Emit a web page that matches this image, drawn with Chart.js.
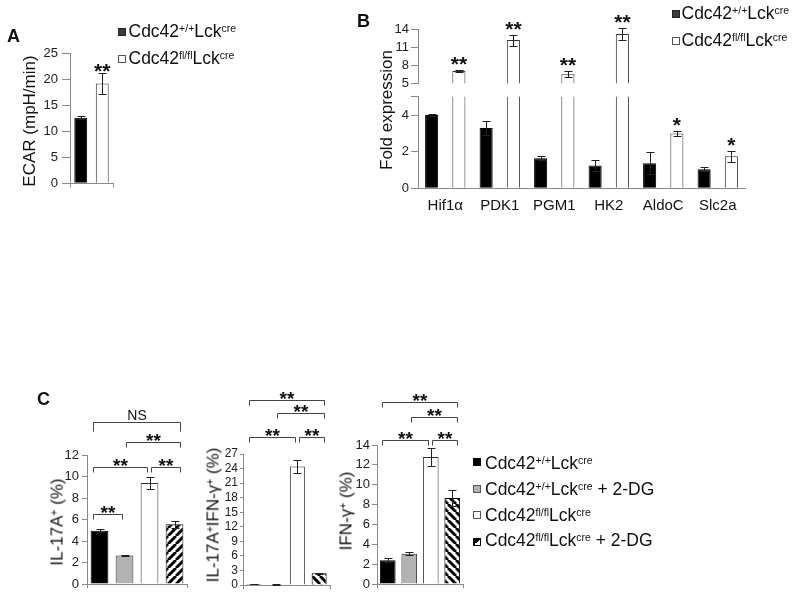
<!DOCTYPE html>
<html>
<head>
<meta charset="utf-8">
<script src="https://cdn.jsdelivr.net/npm/chart.js@4.4.1/dist/chart.umd.min.js"></script>
<style>
  html, body { margin: 0; padding: 0; background: #fff; }
  #page { position: relative; width: 800px; height: 598px; overflow: hidden;
          font-family: 'Liberation Sans', Arial, sans-serif; color: #111; }
  canvas { position: absolute; left: 0; top: 0; }
  .t { position: absolute; white-space: nowrap; line-height: 1; }
  .rot { transform: translate(-50%, -50%) rotate(-90deg); }
  sup { font-size: 0.6em; vertical-align: 0.5em; line-height: 0; }
  .sw { position: absolute; width: 8px; height: 8px; box-sizing: border-box; border: 1px solid #333; }
</style>
</head>
<body>
<div id="page"></div>
<script>
// ---- A: ECAR
const genotypes = ['Cdc42<sup>+/+</sup>Lck<sup>cre</sup>', 'Cdc42<sup>fl/fl</sup>Lck<sup>cre</sup>'];
const ecarMean = [12.6, 19.2];
const ecarErr = [0.3, 2.0];
const ecarSig = ['', '**'];
const ecarTicks = [0, 5, 10, 15, 20, 25];

// ---- B: fold expression (broken axis)
const genes = ['Hif1α', 'PDK1', 'PGM1', 'HK2', 'AldoC', 'Slc2a'];
const foldWT = [4.0, 3.3, 1.64, 1.24, 1.37, 1.04];
const foldWTErr = [0.05, 0.38, 0.1, 0.32, 0.6, 0.1];
const foldKO = [7.05, 12.2, 6.5, 13.2, 3.0, 1.75];
const foldKOErr = [0.12, 0.9, 0.5, 1.0, 0.12, 0.3];
const foldSig = ['**', '**', '**', '**', '*', '*'];
const foldTicksUpper = [5, 8, 11, 14];
const foldTicksLower = [0, 2, 4];

// ---- C: flow cytometry
const treatments = [
  'Cdc42<sup>+/+</sup>Lck<sup>cre</sup>',
  'Cdc42<sup>+/+</sup>Lck<sup>cre</sup> + 2-DG',
  'Cdc42<sup>fl/fl</sup>Lck<sup>cre</sup>',
  'Cdc42<sup>fl/fl</sup>Lck<sup>cre</sup> + 2-DG'
];
const il17Mean = [4.95, 2.65, 9.4, 5.55];
const il17Err = [0.15, 0.05, 0.6, 0.35];
const il17Ticks = [0, 2, 4, 6, 8, 10, 12];
const dpMean = [0.2, 0.1, 24.4, 2.4];
const dpErr = [0.05, 0.05, 1.3, 0.15];
const dpTicks = [0, 3, 6, 9, 12, 15, 18, 21, 24, 27];
const ifngMean = [2.4, 3.05, 12.8, 8.65];
const ifngErr = [0.2, 0.15, 0.9, 0.8];
const ifngTicks = [0, 2, 4, 6, 8, 10, 12, 14];
// comparisons: [from bar, to bar, bracket level (axis units), label]
const il17Comp = [[0, 1, 6.5, '**'], [0, 2, 10.9, '**'], [2, 3, 10.9, '**'], [1, 3, 13.2, '**'], [0, 3, 15.1, 'NS']];
const dpComp = [[0, 2, 30.5, '**'], [2, 3, 30.5, '**'], [1, 3, 35.5, '**'], [0, 3, 38.1, '**']];
const ifngComp = [[0, 2, 14.5, '**'], [2, 3, 14.5, '**'], [1, 3, 16.8, '**'], [0, 3, 18.3, '**']];

const FONT = "'Liberation Sans', Arial, sans-serif";
const AXIS = '#8a8a8a';
Chart.defaults.font.family = FONT;
const page = document.getElementById('page');

const black = { fill: '#000', border: '#000' };
const gray = { fill: '#b2b2b2', border: '#333' };
const white = { fill: '#fff', border: '#333' };
const hatched = { fill: 'hatch', border: '#000' };

function hatch(ctx, dir) {
  const s = 8, p = document.createElement('canvas');
  p.width = s; p.height = s;
  const g = p.getContext('2d');
  g.fillStyle = '#fff'; g.fillRect(0, 0, s, s);
  g.strokeStyle = '#000'; g.lineWidth = 3;
  g.beginPath();
  for (let k = -1; k <= 1; k++) {
    if (dir === '/') { g.moveTo(k * s, s); g.lineTo(k * s + s, 0); }
    else { g.moveTo(k * s, 0); g.lineTo(k * s + s, s); }
  }
  g.stroke();
  return ctx.createPattern(p, 'repeat');
}

function errorBars(sigSize, sigShift) {
  return {
    id: 'errorBars',
    afterDatasetsDraw(chart) {
      const ctx = chart.ctx, y = chart.scales.y;
      ctx.save();
      ctx.strokeStyle = '#222'; ctx.lineWidth = 1; ctx.fillStyle = '#111';
      ctx.textAlign = 'center'; ctx.textBaseline = 'alphabetic';
      ctx.font = 'bold ' + sigSize + 'px ' + FONT;
      chart.data.datasets.forEach((ds, i) => {
        chart.getDatasetMeta(i).data.forEach((bar, j) => {
          const v = ds.data[j], e = ds.errors[j];
          if (v < y.min || v > y.max) return;
          const x = Math.round(bar.x) + 0.5;
          const t = Math.round(y.getPixelForValue(v + e)) + 0.5;
          const b = Math.round(y.getPixelForValue(v - e)) + 0.5;
          ctx.beginPath();
          ctx.moveTo(x, t); ctx.lineTo(x, b);
          ctx.moveTo(x - 4, t); ctx.lineTo(x + 4, t);
          ctx.moveTo(x - 4, b); ctx.lineTo(x + 4, b);
          ctx.stroke();
          if (ds.sig && ds.sig[j]) ctx.fillText(ds.sig[j], bar.x, t + sigShift);
        });
      });
      ctx.restore();
    }
  };
}

function brackets(items) {
  return {
    id: 'brackets',
    afterDatasetsDraw(chart) {
      const ctx = chart.ctx, y = chart.scales.y, last = chart.data.datasets.length - 1;
      const bar = k => chart.getDatasetMeta(k).data[0];
      ctx.save();
      ctx.strokeStyle = '#444'; ctx.lineWidth = 1; ctx.fillStyle = '#111';
      ctx.textAlign = 'center'; ctx.textBaseline = 'alphabetic';
      items.forEach(([a, b, level, label]) => {
        const A = bar(a), B = bar(b);
        const x1 = Math.round(a === 0 ? A.x - 0.35 * A.width : A.x + 0.1 * A.width) + 0.5;
        const x2 = Math.round(b === last ? B.x + 0.3 * B.width : B.x - 0.15 * B.width) + 0.5;
        const yy = Math.round(y.getPixelForValue(level)) + 0.5;
        const leg = label === 'NS' ? 9 : 5;
        ctx.beginPath();
        ctx.moveTo(x1, yy + leg); ctx.lineTo(x1, yy); ctx.lineTo(x2, yy); ctx.lineTo(x2, yy + leg);
        ctx.stroke();
        if (label === 'NS') { ctx.font = '14px ' + FONT; ctx.fillText(label, (x1 + x2) / 2, yy - 3); }
        else { ctx.font = 'bold 19px ' + FONT; ctx.fillText(label, (x1 + x2) / 2, yy + 4); }
      });
      ctx.restore();
    }
  };
}

function barChart(o) {
  const c = document.createElement('canvas');
  c.width = 800; c.height = 598;
  page.appendChild(c);
  const ctx = c.getContext('2d');
  const yw = 30;
  const shown = o.tickLabels || o.ticks;
  const datasets = o.series.map(s => ({
    data: s.data, errors: s.errors, sig: s.sig,
    backgroundColor: s.fill === 'hatch' ? hatch(ctx, o.hatchDir) : s.fill,
    borderColor: s.border, borderWidth: 1,
    barPercentage: o.barPct, categoryPercentage: 1
  }));
  const plugins = [errorBars(o.sigSize || 21, o.sigShift || 0)];
  if (o.comps) plugins.push(brackets(o.comps));
  return new Chart(c, {
    type: 'bar',
    data: { labels: o.labels, datasets },
    options: {
      responsive: false, animation: false, devicePixelRatio: 1,
      layout: { padding: { left: o.area.l - yw, top: o.area.t, right: 800 - o.area.r, bottom: 598 - o.area.b - o.xh } },
      plugins: { legend: { display: false }, tooltip: { enabled: false } },
      scales: {
        x: {
          offset: true,
          afterFit: s => { s.height = o.xh; },
          border: { display: o.xAxis !== false, color: AXIS },
          grid: { display: !!o.xTickLen, drawOnChartArea: false, drawTicks: !!o.xTickLen, tickLength: o.xTickLen || 0, offset: true, color: AXIS },
          ticks: { display: !!o.xLabels, font: { size: 15 }, color: '#111', padding: 9, autoSkip: false, maxRotation: 0 }
        },
        y: {
          min: o.min, max: o.max,
          afterBuildTicks: s => { s.ticks = o.ticks.map(v => ({ value: v })); },
          afterFit: s => { s.width = yw; },
          border: { display: true, color: AXIS },
          grid: { drawOnChartArea: false, drawTicks: true, tickLength: o.tickLen, color: AXIS },
          ticks: { font: { size: o.tickFont }, color: '#222', padding: o.tickPad, autoSkip: false,
                   callback: v => shown.includes(v) ? v : '' }
        }
      }
    },
    plugins
  });
}

const perBar = (means, errs, styles, sigs) =>
  means.map((v, i) => ({ ...styles[i], data: [v], errors: [errs[i]], sig: sigs ? [sigs[i]] : null }));

// A
barChart({
  area: { l: 70, t: 53.3, r: 113, b: 183.3 }, xh: 6, labels: [''],
  min: 0, max: 25, ticks: ecarTicks, tickFont: 13, tickLen: 8, tickPad: 4, xTickLen: 4,
  barPct: 0.6, sigShift: 4,
  series: perBar(ecarMean, ecarErr, [black, white], ecarSig)
});

// B upper segment
barChart({
  area: { l: 418, t: 29.3, r: 745, b: 83.3 }, xh: 0, labels: genes, xAxis: false,
  min: 5, max: 14, ticks: foldTicksUpper, tickFont: 13, tickLen: 7, tickPad: 2,
  barPct: 0.48, sigShift: 0,
  series: [
    { ...black, data: foldWT, errors: foldWTErr },
    { ...white, data: foldKO, errors: foldKOErr, sig: foldSig }
  ]
});
// B lower segment
barChart({
  area: { l: 418, t: 96.8, r: 745, b: 188.3 }, xh: 26, labels: genes, xLabels: true,
  min: 0, max: 5, ticks: foldTicksLower.concat([5]), tickLabels: foldTicksLower,
  tickFont: 13, tickLen: 7, tickPad: 2, barPct: 0.48, sigShift: 0,
  series: [
    { ...black, data: foldWT, errors: foldWTErr },
    { ...white, data: foldKO, errors: foldKOErr, sig: foldSig }
  ]
});

// C
const cStyles = [black, gray, white, hatched];
barChart({
  area: { l: 87, t: 455, r: 187, b: 584 }, xh: 6, labels: [''],
  min: 0, max: 12, ticks: il17Ticks, tickFont: 13, tickLen: 5, tickPad: 3, xTickLen: 4,
  barPct: 0.71, hatchDir: '/', comps: il17Comp,
  series: perBar(il17Mean, il17Err, cStyles)
});
barChart({
  area: { l: 243, t: 454, r: 330, b: 585 }, xh: 6, labels: [''],
  min: 0, max: 27, ticks: dpTicks, tickFont: 12, tickLen: 3, tickPad: 2, xTickLen: 4,
  barPct: 0.69, hatchDir: '\\', comps: dpComp,
  series: perBar(dpMean, dpErr, cStyles)
});
barChart({
  area: { l: 377, t: 445, r: 463, b: 584 }, xh: 6, labels: [''],
  min: 0, max: 14, ticks: ifngTicks, tickFont: 13, tickLen: 5, tickPad: 2, xTickLen: 4,
  barPct: 0.73, hatchDir: '\\', comps: ifngComp,
  series: perBar(ifngMean, ifngErr, cStyles)
});

// text: panel letters, axis titles, legends
function addText(html, x, y, opt = {}) {
  const d = document.createElement('div');
  const fs = opt.size || 17.5;
  d.className = 't' + (opt.rotate ? ' rot' : '');
  d.style.fontSize = fs + 'px';
  if (opt.bold) d.style.fontWeight = 'bold';
  d.style.left = x + 'px';
  d.style.top = (opt.rotate ? y : y - 0.8465 * fs) + 'px';
  d.innerHTML = html;
  page.appendChild(d);
}
function addSwatch(x, y, bg, border) {
  const d = document.createElement('div');
  d.className = 'sw';
  d.style.left = x + 'px'; d.style.top = y + 'px';
  d.style.background = bg; d.style.borderColor = border;
  page.appendChild(d);
}

addText('A', 7, 42, { bold: true, size: 18 });
addText('B', 357, 27, { bold: true, size: 18 });
addText('C', 37, 405, { bold: true, size: 18 });

addText('ECAR (mpH/min)', 29, 121, { rotate: true, size: 17 });
addText('Fold expression', 385.5, 110, { rotate: true, size: 17 });
addText('IL-17A<sup>+</sup> (%)', 57, 522, { rotate: true, size: 17 });
addText('IL-17A<sup>+</sup>IFN-γ<sup>+</sup> (%)', 212.5, 515, { rotate: true, size: 17 });
addText('IFN-γ<sup>+</sup> (%)', 345.5, 511, { rotate: true, size: 17 });

const abSwatch = [['#3c3c3c', '#222'], ['#fff', '#555']];
genotypes.forEach((g, i) => {
  addSwatch(118, 28 + i * 27, abSwatch[i][0], abSwatch[i][1]);
  addText(g, 128.5, 38 + i * 26.5);
  addSwatch(672, 10 + i * 26.5, abSwatch[i][0], abSwatch[i][1]);
  addText(g, 681.5, 20 + i * 26.7);
});

const cSwatch = [['#000', '#000'], ['#b2b2b2', '#555'], ['#fff', '#555'],
                 ['linear-gradient(to bottom right, #000 50%, #fff 50%)', '#000']];
treatments.forEach((t, i) => {
  addSwatch(473, 458 + i * 26.7, cSwatch[i][0], cSwatch[i][1]);
  addText(t, 485, 470 + i * 25.7);
});
</script>
</body>
</html>
